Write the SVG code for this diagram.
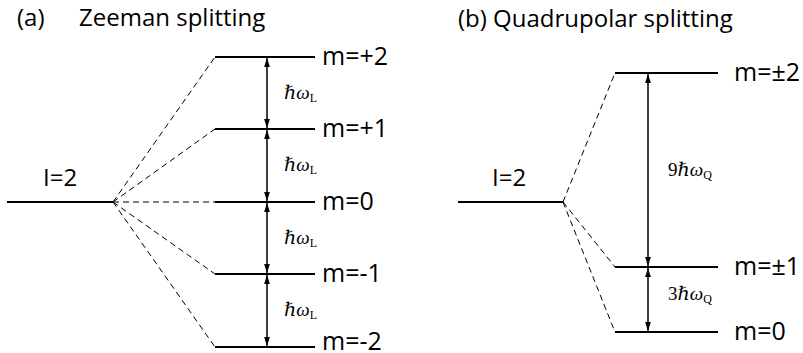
<svg xmlns="http://www.w3.org/2000/svg" width="803" height="353" viewBox="0 0 803 353">
<defs>
<marker id="ah" viewBox="0 0 10 10" refX="10" refY="5" markerWidth="9" markerHeight="9" markerUnits="userSpaceOnUse" orient="auto-start-reverse">
<path d="M0,1.8 L10,5 L0,8.2 Z" fill="#000"/>
</marker>
</defs>
<style>
.t{font-family:"Open Sans","Liberation Sans",sans-serif;font-size:24px;fill:#000}
.m{font-size:25px}
.lv{stroke:#000;stroke-width:2.2;fill:none}
.ds{stroke:#000;stroke-width:1;stroke-dasharray:6,4;fill:none}
.ar{stroke:#000;stroke-width:1.5;fill:none;marker-start:url(#ah);marker-end:url(#ah)}
.mt{font-family:"Liberation Serif","DejaVu Serif",serif;font-size:19px;font-style:italic;fill:#000}
.sb{font-size:12px;font-style:normal}
</style>
<g id="titles">
<text class="t" x="17" y="26">(a)</text>
<text class="t" x="79" y="26">Zeeman splitting</text>
<text class="t" x="458" y="27">(b) Quadrupolar splitting</text>
</g>
<g id="connectors">
<path class="ds" d="M113,202 L215,57"/>
<path class="ds" d="M113,202 L215,129"/>
<path class="ds" d="M113,202 L215,202"/>
<path class="ds" d="M113,202 L215,274"/>
<path class="ds" d="M113,202 L215,347"/>
<path class="ds" d="M563,202 L615,73"/>
<path class="ds" d="M563,202 L615,267"/>
<path class="ds" d="M563,202 L615,332"/>
<line class="ar" x1="267" y1="58" x2="267" y2="128"/>
<line class="ar" x1="267" y1="130" x2="267" y2="201"/>
<line class="ar" x1="267" y1="203" x2="267" y2="273"/>
<line class="ar" x1="267" y1="275" x2="267" y2="346"/>
<line class="ar" x1="648" y1="74" x2="648" y2="266"/>
<line class="ar" x1="648" y1="268" x2="648" y2="331"/>
</g>
<g id="a-I2"><line class="lv" x1="7" y1="202" x2="113" y2="202"/><text class="t" x="43" y="186">I=2</text></g>
<g id="a-p2"><line class="lv" x1="215" y1="57" x2="315" y2="57"/><text class="t m" x="322" y="65">m=+2</text></g>
<g id="a-p1"><line class="lv" x1="215" y1="129" x2="315" y2="129"/><text class="t m" x="322" y="137">m=+1</text></g>
<g id="a-0"><line class="lv" x1="215" y1="202" x2="315" y2="202"/><text class="t m" x="322" y="210">m=0</text></g>
<g id="a-m1"><line class="lv" x1="215" y1="274" x2="315" y2="274"/><text class="t m" x="322" y="282">m=-1</text></g>
<g id="a-m2"><line class="lv" x1="215" y1="347" x2="315" y2="347"/><text class="t m" x="322" y="350">m=-2</text></g>
<g id="a-labels">
<text class="mt" x="284" y="99">ℏω<tspan class="sb" dy="3">L</tspan></text>
<text class="mt" x="284" y="171">ℏω<tspan class="sb" dy="3">L</tspan></text>
<text class="mt" x="284" y="244">ℏω<tspan class="sb" dy="3">L</tspan></text>
<text class="mt" x="284" y="316">ℏω<tspan class="sb" dy="3">L</tspan></text>
</g>
<g id="b-I2"><line class="lv" x1="458" y1="202" x2="563" y2="202"/><text class="t" x="492" y="186">I=2</text></g>
<g id="b-pm2"><line class="lv" x1="615" y1="73" x2="718" y2="73"/><text class="t m" x="734" y="81">m=±2</text></g>
<g id="b-pm1"><line class="lv" x1="615" y1="267" x2="718" y2="267"/><text class="t m" x="734" y="275">m=±1</text></g>
<g id="b-0"><line class="lv" x1="615" y1="332" x2="718" y2="332"/><text class="t m" x="734" y="340">m=0</text></g>
<g id="b-labels">
<text class="mt" x="668" y="176"><tspan font-style="normal">9</tspan>ℏω<tspan class="sb" dy="3">Q</tspan></text>
<text class="mt" x="668" y="300"><tspan font-style="normal">3</tspan>ℏω<tspan class="sb" dy="3">Q</tspan></text>
</g>
</svg>
